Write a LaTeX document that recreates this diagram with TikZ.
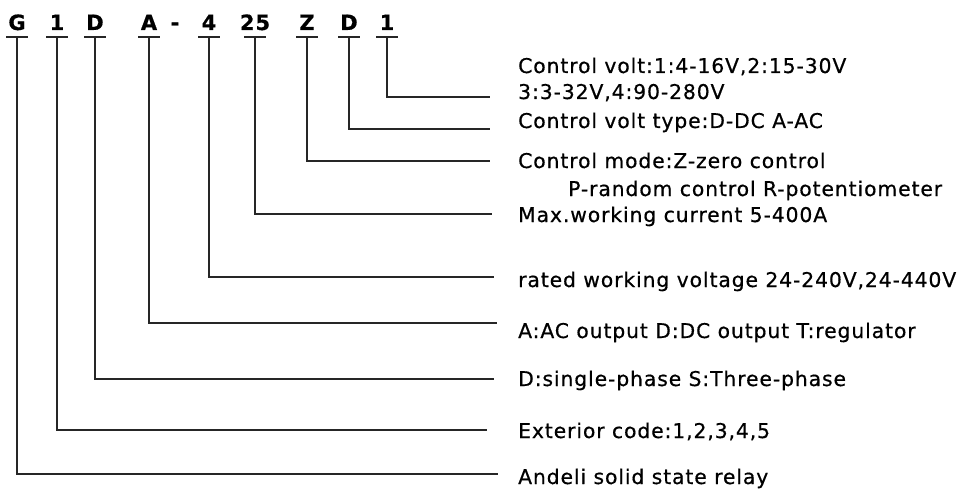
\documentclass[tikz,border=0pt]{standalone}
\usepackage{fontspec}
\setmainfont{DejaVu Sans}[LetterSpace=4.5, FakeBold=0.6]
\usetikzlibrary{calc}

\begin{document}
\begin{tikzpicture}[
    x=1pt, y=-1pt,
    code/.style={font=\fontsize{21}{24}\selectfont\bfseries, anchor=base, inner sep=0pt},
    desc/.style={font=\fontsize{20.3}{26}\selectfont, anchor=base west, inner sep=0pt},
    lead/.style={line width=1.1pt, black!85},
]
\useasboundingbox (0,0) rectangle (969,492);
% model code
\node[code] (cG)  at (17, 30)  {G};
\node[code] (c1)  at (57, 30)  {1};
\node[code] (cD)  at (95, 30)  {D};
\node[code] (cA)  at (149, 30) {A};
\node[code] (cdash) at (175, 30) {-};
\node[code] (c4)  at (209, 30) {4};
\node[code] (c25) at (255, 30) {25};
\node[code] (cZ)  at (307, 30) {Z};
\node[code] (cV)  at (349, 30) {D};
\node[code] (cN)  at (387, 30) {1};
% ticks under the code letters
\foreach \t/\x in {tG/17, t1/57, tD/95, tA/149, t4/209, t25/255, tZ/307, tV/349, tN/387} {
  \coordinate (\t) at (\x, 37);
  \draw[lead] ([xshift=-11pt]\t) -- ([xshift=11pt]\t);
}
% descriptions
\node[desc] (lVolt)  at (518, 73)  {Control volt:1:4-16V,2:15-30V};
\node[desc] (lVoltb) at (518, 99)  {3:3-32V,4:90-280V};
\node[desc] (lType)  at (518, 128) {Control volt type:D-DC A-AC};
\node[desc] (lMode)  at (518, 168) {Control mode:Z-zero control};
\node[desc] (lModeb) at (568, 196) {P-random control R-potentiometer};
\node[desc] (lCur)   at (518, 222) {Max.working current 5-400A};
\node[desc] (lRated) at (518, 287) {rated working voltage 24-240V,24-440V};
\node[desc] (lOut)   at (518, 338) {A:AC output D:DC output T:regulator};
\node[desc] (lPhase) at (518, 386) {D:single-phase S:Three-phase};
\node[desc] (lExt)   at (518, 438) {Exterior code:1,2,3,4,5};
\node[desc] (lRelay) at (518, 484) {Andeli solid state relay};
% leader ends
\coordinate (eN)  at (490, 97);
\coordinate (eV)  at (490, 129);
\coordinate (eZ)  at (490, 161);
\coordinate (e25) at (492, 214);
\coordinate (e4)  at (494, 277);
\coordinate (eA)  at (497, 323);
\coordinate (eD)  at (494, 379);
\coordinate (e1)  at (487, 430);
\coordinate (eG)  at (498, 474);
% leaders
\draw[lead] (tN) |- (eN);
\draw[lead] (tV) |- (eV);
\draw[lead] (tZ) |- (eZ);
\draw[lead] (t25) |- (e25);
\draw[lead] (t4) |- (e4);
\draw[lead] (tA) |- (eA);
\draw[lead] (tD) |- (eD);
\draw[lead] (t1) |- (e1);
\draw[lead] (tG) |- (eG);
\end{tikzpicture}
\end{document}
